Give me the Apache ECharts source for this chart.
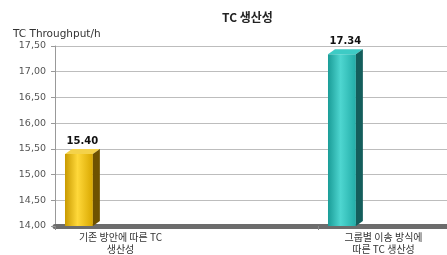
<!DOCTYPE html>
<html>
<head>
<meta charset="utf-8">
<script src="https://cdn.jsdelivr.net/npm/echarts@6/dist/echarts.min.js"></script>
<style>
  html, body { margin: 0; padding: 0; background: #fff; }
  #chart { width: 447px; height: 255px; }
</style>
</head>
<body>
<div id="chart"></div>
<script>
// TC throughput per hour, two transport strategies
const categories = ['기존 방안에 따른 TC\n생산성', '그룹별 이송 방식에\n따른 TC 생산성']
const throughput = [15.40, 17.34]
const yMin = 14
const yMax = 17.5
const yStep = 0.5

const faceColors = [
  { front: ['#C99A00', '#FFD83A', '#D9A800'], side: '#6E5200', top: '#F4D24A' },
  { front: ['#1A9C97', '#4ED6D0', '#22ADA8'], side: '#145E5C', top: '#3DCBC5' }
]

const chart = echarts.init(document.getElementById('chart'))

function renderBar(params, api) {
  const idx = api.value(0)
  const val = api.value(1)
  const top = api.coord([idx, val])
  const base = api.coord([idx, yMin])
  const band = api.size([1, 0])[0]
  const x0 = top[0] - band / 2 + band * 0.038
  const w = band * 0.106
  const dx = 7
  const dy = 5
  const c = faceColors[idx]
  return {
    type: 'group',
    children: [
      {
        type: 'rect',
        shape: { x: x0, y: top[1], width: w, height: base[1] - top[1] },
        style: {
          fill: new echarts.graphic.LinearGradient(0, 0, 1, 0, [
            { offset: 0, color: c.front[0] },
            { offset: 0.45, color: c.front[1] },
            { offset: 1, color: c.front[2] }
          ])
        }
      },
      {
        type: 'polygon',
        shape: { points: [[x0, top[1]], [x0 + dx, top[1] - dy], [x0 + w + dx, top[1] - dy], [x0 + w, top[1]]] },
        style: { fill: c.top }
      },
      {
        type: 'polygon',
        shape: { points: [[x0 + w, top[1]], [x0 + w + dx, top[1] - dy], [x0 + w + dx, base[1] - dy], [x0 + w, base[1]]] },
        style: { fill: c.side }
      },
      {
        type: 'text',
        style: {
          x: x0 + (w + dx) / 2,
          y: top[1] - dy - 3,
          text: val.toFixed(2),
          align: 'center',
          verticalAlign: 'bottom',
          font: 'bold 10px "DejaVu Sans", sans-serif',
          fill: '#111'
        }
      }
    ]
  }
}

chart.setOption({
  animation: false,
  title: [
    {
      text: 'TC 생산성',
      left: 217,
      top: 6,
      textStyle: { fontSize: 12, fontWeight: 'bold', color: '#222', fontFamily: '"Noto Sans CJK KR", sans-serif' }
    },
    {
      text: 'TC Throughput/h',
      left: 8,
      top: 24,
      textStyle: { fontSize: 10.5, fontWeight: 'normal', color: '#333', fontFamily: '"DejaVu Sans", sans-serif' }
    }
  ],
  grid: { left: 55, top: 46, width: 526, bottom: 29, outerBoundsMode: 'none' },
  xAxis: {
    type: 'category',
    data: categories,
    axisLine: { lineStyle: { color: '#6c6c6c', width: 5 } },
    axisTick: { show: true, length: 4, lineStyle: { color: '#888', width: 1 } },
    axisLabel: {
      interval: 0,
      margin: 5,
      fontSize: 10,
      lineHeight: 12,
      color: '#333',
      fontFamily: '"Noto Sans CJK KR", sans-serif',
      align: 'center',
      padding: [0, 132, 0, 0]
    }
  },
  yAxis: {
    type: 'value',
    min: yMin,
    max: yMax,
    interval: yStep,
    axisLine: { show: true, lineStyle: { color: '#999' } },
    axisTick: { show: true, length: 4, lineStyle: { color: '#999' } },
    axisLabel: {
      margin: 9,
      fontSize: 9.5,
      color: '#555',
      fontFamily: '"DejaVu Sans", sans-serif',
      formatter: v => v.toFixed(2).replace('.', ',')
    },
    splitLine: { lineStyle: { color: '#bdbdbd', width: 1 } }
  },
  series: [{
    type: 'custom',
    renderItem: renderBar,
    encode: { x: 0, y: 1 },
    data: categories.map((c, i) => [i, throughput[i]])
  }]
})
</script>
</body>
</html>
